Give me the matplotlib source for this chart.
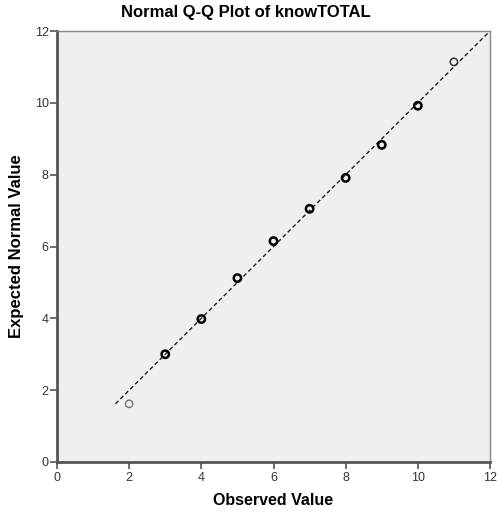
import matplotlib
matplotlib.use('Agg')
import numpy as np
from matplotlib import pyplot as plt

observed = [2, 3, 4, 5, 6, 7, 8, 9, 10, 11]
expected = [1.62, 3.0, 3.98, 5.12, 6.15, 7.05, 7.91, 8.83, 9.92, 11.14]
line_x = [1.62, 12]
ticks = [0, 2, 4, 6, 8, 10, 12]

plt.rcParams['font.family'] = ['Liberation Sans', 'DejaVu Sans']

fig = plt.figure(figsize=(4.98, 5.14), dpi=100)
ax = fig.add_axes([57/498, 1 - 462/514, 433/498, 431/514])
ax.set_facecolor('#efefef')

ax.plot(line_x, line_x, linestyle=(0, (3, 2)), color='#222222', lw=1.0, zorder=2)

edge = ['#777777'] + ['black'] * 8 + ['#333333']
widths = [1.0] + [1.8] * 8 + [1.1]
ax.scatter(observed, expected, s=28, facecolors='none', edgecolors=edge,
           linewidths=widths, zorder=3)

ax.set_xlim(0, 12)
ax.set_ylim(0, 12)
ax.set_xticks(ticks)
ax.set_yticks(ticks)
ax.tick_params(direction='out', length=5, width=1.2, colors='#555555',
               labelsize=9, labelcolor='#333333')
ax.tick_params(axis='x', pad=2)
ax.tick_params(axis='y', pad=1)

for side in ['left', 'bottom']:
    ax.spines[side].set_color('#555555')
    ax.spines[side].set_linewidth(2)
for side in ['top', 'right']:
    ax.spines[side].set_color('#888888')
    ax.spines[side].set_linewidth(1)

# title sits centred on the whole figure, not the axes
fig.text(0.494, 1 - 13/514, 'Normal Q-Q Plot of knowTOTAL', fontsize=12,
         fontweight='bold', ha='center', va='center')
ax.set_xlabel('Observed Value', fontsize=11.5, fontweight='bold', labelpad=7)
ax.set_ylabel('Expected Normal Value', fontsize=12, fontweight='bold', labelpad=8)

fig.savefig('out.png', dpi=100)
